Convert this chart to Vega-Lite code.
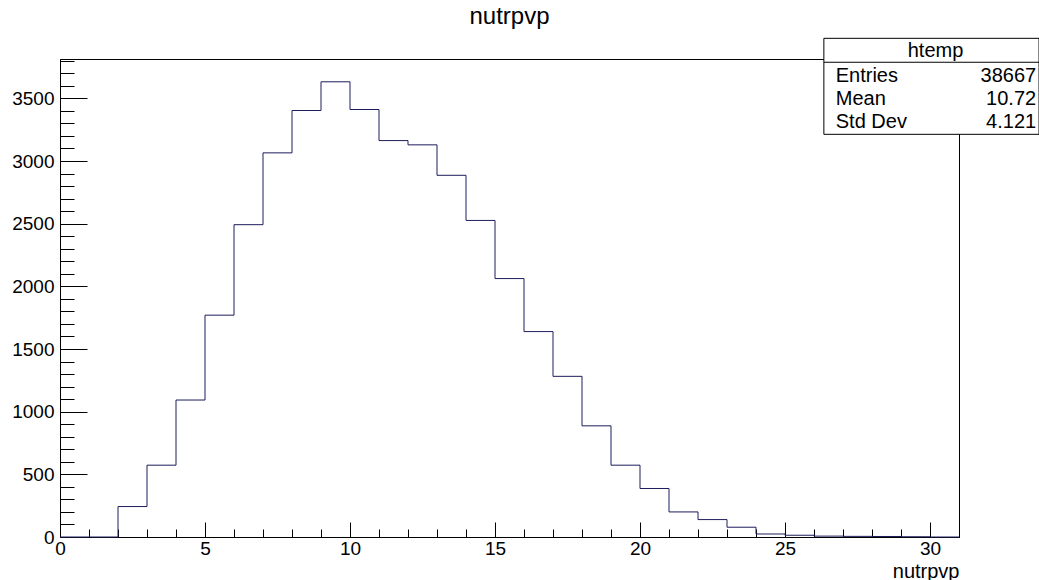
{
  "$schema": "https://vega.github.io/schema/vega-lite/v6.json",
  "width": 899,
  "height": 478,
  "autosize": {"type": "none"},
  "padding": {"left": 60, "top": 59, "right": 80, "bottom": 43},
  "background": "white",
  "config": {
    "font": "Liberation Sans",
    "view": {"stroke": "#000", "strokeWidth": 1}
  },
  "title": {
    "text": "nutrpvp",
    "fontSize": 24,
    "fontWeight": "normal",
    "font": "Liberation Sans",
    "color": "#000",
    "anchor": "middle",
    "frame": "group",
    "baseline": "alphabetic",
    "offset": -10
  },
  "datasets": {
    "hist": [
      {"x": 0, "n": 0}, {"x": 1, "n": 0}, {"x": 2, "n": 243}, {"x": 3, "n": 573},
      {"x": 4, "n": 1093}, {"x": 5, "n": 1770}, {"x": 6, "n": 2492}, {"x": 7, "n": 3065},
      {"x": 8, "n": 3403}, {"x": 9, "n": 3632}, {"x": 10, "n": 3411}, {"x": 11, "n": 3163},
      {"x": 12, "n": 3129}, {"x": 13, "n": 2886}, {"x": 14, "n": 2526}, {"x": 15, "n": 2062},
      {"x": 16, "n": 1639}, {"x": 17, "n": 1282}, {"x": 18, "n": 887}, {"x": 19, "n": 573},
      {"x": 20, "n": 387}, {"x": 21, "n": 200}, {"x": 22, "n": 139}, {"x": 23, "n": 78},
      {"x": 24, "n": 24}, {"x": 25, "n": 14}, {"x": 26, "n": 7}, {"x": 27, "n": 5},
      {"x": 28, "n": 4}, {"x": 29, "n": 2}, {"x": 30, "n": 0}, {"x": 31, "n": 0}
    ],
    "stats": [
      {"title": "htemp", "labels": ["Entries", "Mean", "Std Dev"], "values": ["38667", "10.72", "4.121"]}
    ]
  },
  "layer": [
    {
      "data": {"name": "hist"},
      "mark": {"type": "line", "interpolate": "step-after", "color": "#1c1c5c", "strokeWidth": 1},
      "encoding": {
        "x": {
          "field": "x", "type": "quantitative",
          "scale": {"domain": [0, 31], "nice": false, "zero": false},
          "axis": {
            "orient": "bottom",
            "values": [0, 5, 10, 15, 20, 25, 30],
            "format": "d",
            "grid": false,
            "tickSize": -15,
            "tickColor": "#000",
            "domainColor": "#000",
            "labelFontSize": 19,
            "labelColor": "#000",
            "labelFont": "Liberation Sans",
            "labelPadding": 17,
            "labelFlush": false,
            "labelOverlap": false,
            "title": "nutrpvp",
            "titleFont": "Liberation Sans",
            "titleFontSize": 20,
            "titleFontWeight": "normal",
            "titleColor": "#000",
            "titleAlign": "right",
            "titleAnchor": "end",
            "titleBaseline": "alphabetic",
            "titleX": 899,
            "titleY": 40
          }
        },
        "y": {
          "field": "n", "type": "quantitative",
          "scale": {"domain": [0, 3814], "nice": false},
          "axis": {
            "orient": "left",
            "values": [0, 500, 1000, 1500, 2000, 2500, 3000, 3500],
            "format": "d",
            "grid": false,
            "tickSize": -27,
            "tickColor": "#000",
            "domainColor": "#000",
            "labelFontSize": 19,
            "labelColor": "#000",
            "labelFont": "Liberation Sans",
            "labelPadding": 33,
            "labelOverlap": false,
            "labelFlush": false,
            "title": null
          }
        }
      }
    },
    {
      "data": {"name": "stats"},
      "mark": {"type": "rect", "fill": "white", "stroke": "#000", "strokeWidth": 1},
      "encoding": {
        "x": {
          "datum": 26.34, "type": "quantitative",
          "axis": {
            "orient": "bottom",
            "values": [0,1,2,3,4,5,6,7,8,9,10,11,12,13,14,15,16,17,18,19,20,21,22,23,24,25,26,27,28,29,30,31],
            "labels": false, "domain": false, "grid": false, "title": null,
            "tickSize": -8, "tickColor": "#000"
          }
        },
        "x2": {"datum": 33.76},
        "y": {
          "datum": 3979, "type": "quantitative",
          "axis": {
            "orient": "left",
            "values": [0,100,200,300,400,500,600,700,800,900,1000,1100,1200,1300,1400,1500,1600,1700,1800,1900,2000,2100,2200,2300,2400,2500,2600,2700,2800,2900,3000,3100,3200,3300,3400,3500,3600,3700,3800],
            "labels": false, "domain": false, "grid": false, "title": null,
            "tickSize": -14, "tickColor": "#000"
          }
        },
        "y2": {"datum": 3213}
      }
    },
    {
      "data": {"name": "stats"},
      "mark": {"type": "rule", "color": "#000", "strokeWidth": 1},
      "encoding": {
        "x": {"datum": 26.34, "type": "quantitative", "axis": null},
        "x2": {"datum": 33.76},
        "y": {"datum": 3788, "type": "quantitative", "axis": null}
      }
    },
    {
      "data": {"name": "stats"},
      "mark": {"type": "text", "align": "center", "baseline": "alphabetic", "fontSize": 20, "font": "Liberation Sans", "color": "#000"},
      "encoding": {
        "x": {"datum": 30.19, "type": "quantitative", "axis": null},
        "y": {"datum": 3832, "type": "quantitative", "axis": null},
        "text": {"field": "title"}
      }
    },
    {
      "data": {"name": "stats"},
      "mark": {"type": "text", "align": "left", "baseline": "alphabetic", "fontSize": 20, "lineHeight": 23.3, "font": "Liberation Sans", "color": "#000"},
      "encoding": {
        "x": {"datum": 26.75, "type": "quantitative", "axis": null},
        "y": {"datum": 3633, "type": "quantitative", "axis": null},
        "text": {"field": "labels"}
      }
    },
    {
      "data": {"name": "stats"},
      "mark": {"type": "text", "align": "right", "baseline": "alphabetic", "fontSize": 20, "lineHeight": 23.3, "font": "Liberation Sans", "color": "#000"},
      "encoding": {
        "x": {"datum": 33.66, "type": "quantitative", "axis": null},
        "y": {"datum": 3633, "type": "quantitative", "axis": null},
        "text": {"field": "values"}
      }
    }
  ],
  "resolve": {"axis": {"x": "independent", "y": "independent"}}
}
